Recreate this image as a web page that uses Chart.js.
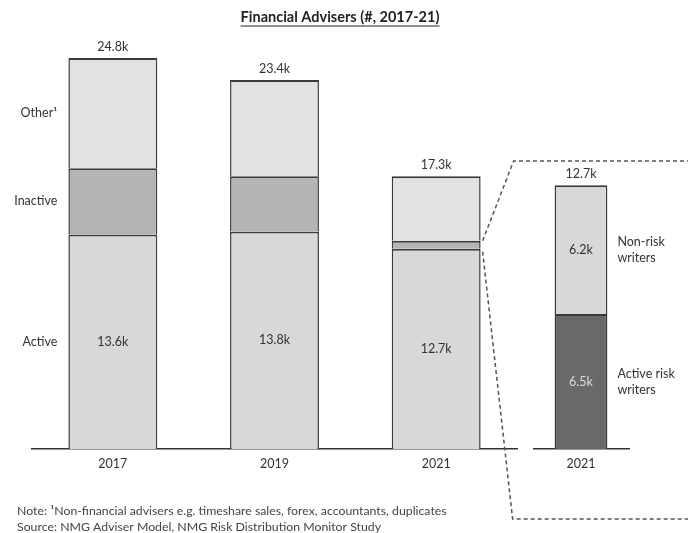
<!DOCTYPE html>
<html>
<head>
<meta charset="utf-8">
<title>Financial Advisers</title>
<script src="https://cdn.jsdelivr.net/npm/chart.js@4"></script>
<style>
  body { margin: 0; background: #fff; }
  #wrap { position: relative; width: 688px; height: 533px; }
  #main { position: absolute; left: 0; top: 0; }
  #split { position: absolute; left: 533px; top: 0; }
</style>
</head>
<body>
<div id="wrap">
  <canvas id="main" width="688" height="533"></canvas>
  <canvas id="split" width="155" height="533"></canvas>
</div>
<script>
// data (thousands of advisers)
const years = ["2017", "2019", "2021"];
const activeVals = [13.6, 13.8, 12.7];
const inactiveVals = [4.2, 3.5, 0.5];
const otherVals = [7.0, 6.1, 4.1];
const segmentNames = ["Active", "Inactive", "Other¹"];

const splitYears = ["2021"];
const riskWriters = [6.5];
const nonRiskWriters = [6.2];
const splitNames = [["Active risk", "writers"], ["Non-risk", "writers"]];

const FONT = "Lato, 'Open Sans', sans-serif";
const TEXT = "#333";
const EDGE = "#3a3a3a";

Chart.defaults.font.family = FONT;
Chart.defaults.color = TEXT;

function fmt(v) {
  return v.toFixed(1) + "k";
}

// labels, title, footnote and the dashed connector for the main chart
const mainDecor = {
  id: "mainDecor",
  afterDatasetsDraw(chart) {
    const ctx = chart.ctx;
    const active = chart.getDatasetMeta(0).data;
    const inactive = chart.getDatasetMeta(1).data;
    const other = chart.getDatasetMeta(2).data;
    ctx.save();
    ctx.fillStyle = TEXT;
    ctx.textAlign = "center";
    ctx.textBaseline = "middle";
    ctx.font = "12.5px " + FONT;

    active.forEach((bar, i) => {
      ctx.fillText(fmt(activeVals[i]), bar.x, (bar.y + bar.base) / 2);
      const total = activeVals[i] + inactiveVals[i] + otherVals[i];
      ctx.fillText(fmt(total), bar.x, other[i].y - 11);
    });

    // segment names next to the first bar
    ctx.textAlign = "right";
    const first = [active[0], inactive[0], other[0]];
    first.forEach((bar, k) => {
      const left = bar.x - bar.width / 2 - 11;
      ctx.fillText(segmentNames[k], left, (bar.y + bar.base) / 2);
    });

    // dashed lines from the 2021 bar to the split panel
    const last = inactive[2];
    const right = last.x + last.width / 2;
    ctx.strokeStyle = "#555";
    ctx.lineWidth = 1.5;
    ctx.setLineDash([4, 3]);
    ctx.beginPath();
    ctx.moveTo(right + 2, last.y);
    ctx.lineTo(right + 33, 161);
    ctx.lineTo(688, 161);
    ctx.moveTo(right + 2, last.base + 3);
    ctx.lineTo(right + 32, 519);
    ctx.lineTo(688, 519);
    ctx.stroke();
    ctx.setLineDash([]);

    // title, underlined
    const title = "Financial Advisers (#, 2017-21)";
    ctx.font = "bold 14.5px " + FONT;
    ctx.textAlign = "center";
    ctx.fillStyle = "#222";
    ctx.fillText(title, 340, 17);
    const w = ctx.measureText(title).width;
    ctx.strokeStyle = "#222";
    ctx.lineWidth = 1;
    ctx.beginPath();
    ctx.moveTo(340 - w / 2, 26);
    ctx.lineTo(340 + w / 2, 26);
    ctx.stroke();

    // footnote
    ctx.font = "12.3px " + FONT;
    ctx.fillStyle = "#444";
    ctx.textAlign = "left";
    ctx.fillText("Note: ¹Non-financial advisers e.g. timeshare sales, forex, accountants, duplicates", 17, 511);
    ctx.fillText("Source: NMG Adviser Model, NMG Risk Distribution Monitor Study", 17, 527);
    ctx.restore();
  }
};

const splitDecor = {
  id: "splitDecor",
  afterDatasetsDraw(chart) {
    const ctx = chart.ctx;
    const risk = chart.getDatasetMeta(0).data;
    const nonRisk = chart.getDatasetMeta(1).data;
    ctx.save();
    ctx.textAlign = "center";
    ctx.textBaseline = "middle";
    ctx.font = "12.5px " + FONT;
    risk.forEach((bar, i) => {
      ctx.fillStyle = "#ddd";
      ctx.fillText(fmt(riskWriters[i]), bar.x, (bar.y + bar.base) / 2);
      ctx.fillStyle = TEXT;
      const nb = nonRisk[i];
      ctx.fillText(fmt(nonRiskWriters[i]), nb.x, (nb.y + nb.base) / 2);
      ctx.fillText(fmt(riskWriters[i] + nonRiskWriters[i]), nb.x, nb.y - 11);

      ctx.textAlign = "left";
      [bar, nb].forEach((seg, k) => {
        const x = seg.x + seg.width / 2 + 10;
        const mid = (seg.y + seg.base) / 2;
        ctx.fillText(splitNames[k][0], x, mid - 8);
        ctx.fillText(splitNames[k][1], x, mid + 8);
      });
      ctx.textAlign = "center";
    });
    ctx.restore();
  }
};

function barSet(label, data, color) {
  return {
    label: label,
    data: data,
    backgroundColor: color,
    borderColor: EDGE,
    // no bottom edge: the segment below draws the shared line
    borderWidth: { top: 2, left: 1.5, right: 1.5, bottom: 0 },
    borderSkipped: false,
    barPercentage: 0.55,
    categoryPercentage: 1
  };
}

function axes(yMax) {
  return {
    x: {
      stacked: true,
      grid: { display: true, drawOnChartArea: false, drawTicks: false },
      border: { display: true, color: "#333", width: 1.5 },
      ticks: { padding: 7, color: TEXT, font: { size: 12.5 } },
      afterFit: (s) => { s.height = 84; }
    },
    y: {
      stacked: true,
      display: false,
      min: 0,
      max: yMax
    }
  };
}

new Chart(document.getElementById("main"), {
  type: "bar",
  data: {
    labels: years,
    datasets: [
      barSet("Active", activeVals, "#d8d8d8"),
      barSet("Inactive", inactiveVals, "#b4b4b4"),
      barSet("Other", otherVals, "#e2e2e2")
    ]
  },
  options: {
    responsive: false,
    animation: false,
    layout: { padding: { left: 32, right: 171, top: 39, bottom: 0 } },
    plugins: { legend: { display: false }, tooltip: { enabled: false } },
    scales: axes(26)
  },
  plugins: [mainDecor]
});

new Chart(document.getElementById("split"), {
  type: "bar",
  data: {
    labels: splitYears,
    datasets: [
      barSet("Active risk writers", riskWriters, "#696969"),
      barSet("Non-risk writers", nonRiskWriters, "#d8d8d8")
    ]
  },
  options: {
    responsive: false,
    animation: false,
    layout: { padding: { left: 0, right: 59, top: 96, bottom: 0 } },
    plugins: { legend: { display: false }, tooltip: { enabled: false } },
    scales: axes(17)
  },
  plugins: [splitDecor]
});
</script>
</body>
</html>
